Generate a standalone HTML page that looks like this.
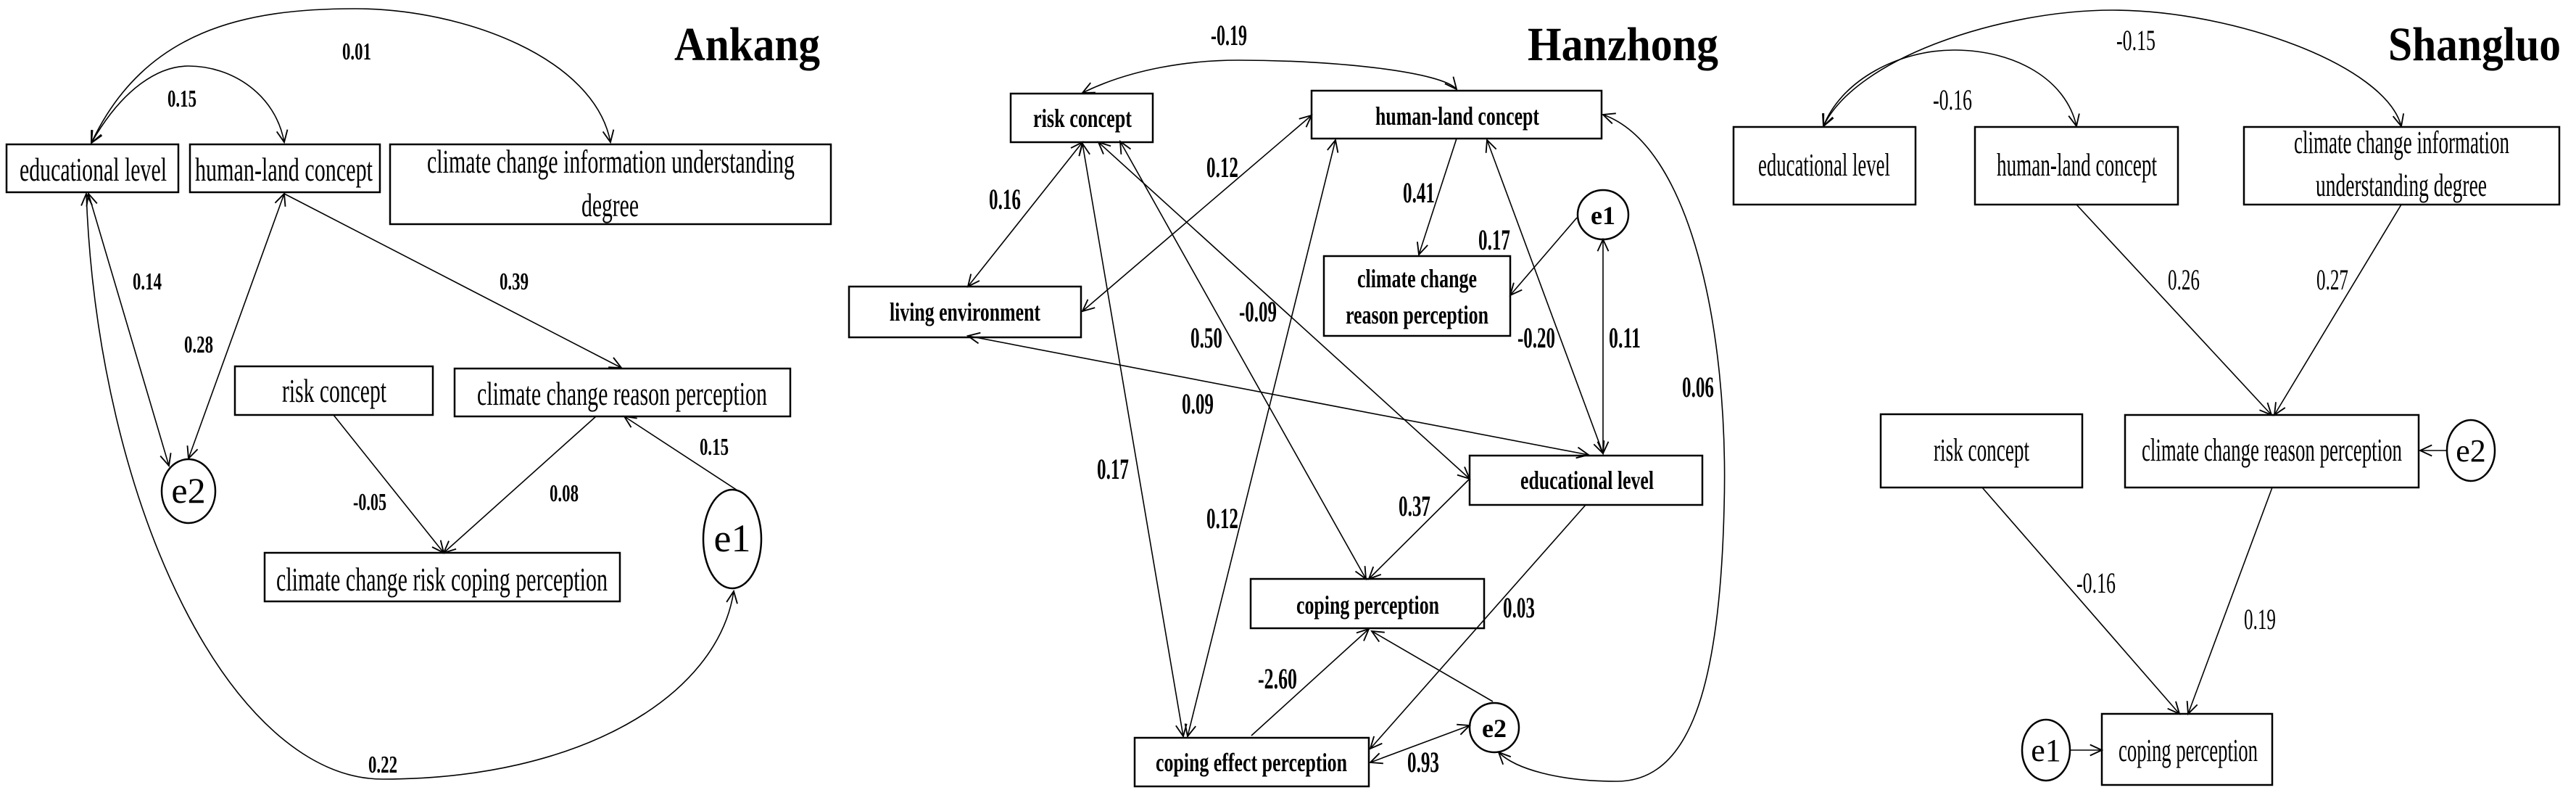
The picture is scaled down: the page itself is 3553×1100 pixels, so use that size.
<!DOCTYPE html>
<html><head><meta charset="utf-8"><style>
html,body{margin:0;padding:0;background:#fff;width:3553px;height:1100px;overflow:hidden}
svg{display:block}
text{font-family:"Liberation Serif",serif;fill:#000}
.t{font-size:46px}
.tb{font-size:36px;font-weight:bold}
.t3{font-size:44px}
.n1{font-size:34px;font-weight:bold}
.n2{font-size:40px;font-weight:bold}
.n3{font-size:40px}
.ttl{font-size:66px;font-weight:bold}
</style></head><body>
<svg width="3553" height="1100" viewBox="0 0 3553 1100" xmlns="http://www.w3.org/2000/svg">
<defs>
<marker id="a" markerUnits="userSpaceOnUse" markerWidth="20" markerHeight="20" refX="14" refY="7" orient="auto-start-reverse" viewBox="0 0 16 14">
<path d="M1,1 L14,7 L1,13" fill="none" stroke="#000" stroke-width="1.5"/>
</marker>
</defs>
<g fill="none" stroke="#000" stroke-width="2.5">
<!-- Panel 1 boxes -->
<rect x="9" y="199" width="237" height="66"/>
<rect x="262" y="199" width="262" height="66"/>
<rect x="538" y="199" width="608" height="110"/>
<rect x="324" y="505" width="273" height="67"/>
<rect x="627" y="508" width="463" height="66"/>
<rect x="365" y="762" width="490" height="67"/>
<ellipse cx="260" cy="677" rx="37" ry="44"/>
<ellipse cx="1010" cy="743" rx="40" ry="68"/>
<!-- Panel 2 boxes -->
<rect x="1394" y="129" width="196" height="67"/>
<rect x="1809" y="125" width="400" height="66"/>
<rect x="1171" y="395" width="320" height="70"/>
<rect x="1826" y="353" width="257" height="110"/>
<ellipse cx="2211" cy="296" rx="35" ry="34"/>
<rect x="2027" y="628" width="321" height="68"/>
<rect x="1725" y="798" width="322" height="68"/>
<rect x="1565" y="1017" width="323" height="67"/>
<ellipse cx="2061" cy="1003" rx="34" ry="34"/>
<!-- Panel 3 boxes -->
<rect x="2391" y="175" width="251" height="107"/>
<rect x="2724" y="175" width="280" height="107"/>
<rect x="3095" y="175" width="435" height="107"/>
<rect x="2594" y="571" width="278" height="101"/>
<rect x="2931" y="572" width="405" height="100"/>
<ellipse cx="3408" cy="621" rx="33" ry="42"/>
<rect x="2899" y="984" width="235" height="98"/>
<ellipse cx="2822" cy="1034" rx="33" ry="42"/>
</g>
<g fill="none" stroke="#000" stroke-width="1.6">
<!-- Panel 1 connectors -->
<path d="M126,197 C200,40 340,12 490,12 C640,12 820,80 842,196" marker-start="url(#a)" marker-end="url(#a)"/>
<path d="M126,197 C170,120 220,91 260,91 C320,91 380,130 392,196" marker-start="url(#a)" marker-end="url(#a)"/>
<line x1="122" y1="267" x2="233" y2="642" marker-start="url(#a)" marker-end="url(#a)"/>
<line x1="392" y1="267" x2="260" y2="632" marker-start="url(#a)" marker-end="url(#a)"/>
<line x1="392" y1="267" x2="857" y2="507" marker-end="url(#a)"/>
<line x1="460" y1="572" x2="612" y2="762" marker-end="url(#a)"/>
<line x1="822" y1="574" x2="612" y2="762" marker-end="url(#a)"/>
<line x1="1017" y1="676" x2="861" y2="574" marker-end="url(#a)"/>
<path d="M119,267 C135,700 320,1074 528,1074 C800,1074 990,960 1012,815" marker-start="url(#a)" marker-end="url(#a)"/>
<!-- Panel 2 connectors -->
<path d="M1493,128 C1560,95 1640,83 1708,83 C1850,83 1990,100 2009,123" marker-start="url(#a)" marker-end="url(#a)"/>
<line x1="1493" y1="196" x2="1335" y2="395" marker-start="url(#a)" marker-end="url(#a)"/>
<line x1="1809" y1="159" x2="1493" y2="429" marker-start="url(#a)" marker-end="url(#a)"/>
<line x1="1493" y1="198" x2="1632" y2="1015" marker-start="url(#a)" marker-end="url(#a)"/>
<line x1="1842" y1="193" x2="1638" y2="1015" marker-start="url(#a)" marker-end="url(#a)"/>
<line x1="1545" y1="195" x2="1884" y2="798" marker-start="url(#a)" marker-end="url(#a)"/>
<line x1="1515" y1="196" x2="2027" y2="660" marker-start="url(#a)" marker-end="url(#a)"/>
<line x1="1335" y1="463" x2="2191" y2="627" marker-start="url(#a)" marker-end="url(#a)"/>
<line x1="2009" y1="191" x2="1957" y2="351" marker-end="url(#a)"/>
<line x1="2175" y1="300" x2="2083" y2="407" marker-end="url(#a)"/>
<line x1="2051" y1="193" x2="2211" y2="625" marker-start="url(#a)" marker-end="url(#a)"/>
<line x1="2211" y1="330" x2="2211" y2="625" marker-start="url(#a)" marker-end="url(#a)"/>
<line x1="2027" y1="660" x2="1888" y2="798" marker-end="url(#a)"/>
<line x1="2187" y1="696" x2="1890" y2="1032" marker-end="url(#a)"/>
<line x1="1726" y1="1014" x2="1888" y2="867" marker-end="url(#a)"/>
<line x1="2059" y1="967" x2="1892" y2="870" marker-end="url(#a)"/>
<line x1="2027" y1="1000" x2="1890" y2="1051" marker-start="url(#a)" marker-end="url(#a)"/>
<path d="M2211,158 C2330,200 2385,450 2378,700 C2372,950 2330,1077 2230,1077 C2150,1077 2090,1060 2067,1037" marker-start="url(#a)" marker-end="url(#a)"/>
<!-- Panel 3 connectors -->
<path d="M2515,174 C2560,80 2760,14 2914,14 C3080,14 3290,90 3312,174" marker-start="url(#a)" marker-end="url(#a)"/>
<path d="M2515,174 C2540,110 2620,69 2695,69 C2780,69 2850,110 2864,174" marker-start="url(#a)" marker-end="url(#a)"/>
<line x1="2864" y1="282" x2="3133" y2="572" marker-end="url(#a)"/>
<line x1="3312" y1="282" x2="3137" y2="572" marker-end="url(#a)"/>
<line x1="3375" y1="621" x2="3338" y2="621" marker-end="url(#a)"/>
<line x1="2734" y1="672" x2="3006" y2="984" marker-end="url(#a)"/>
<line x1="3134" y1="672" x2="3018" y2="984" marker-end="url(#a)"/>
<line x1="2856" y1="1034" x2="2899" y2="1034" marker-end="url(#a)"/>
</g>
<!-- Titles -->
<text class="ttl" x="930" y="83" textLength="201" lengthAdjust="spacingAndGlyphs">Ankang</text>
<text class="ttl" x="2107" y="83" textLength="263" lengthAdjust="spacingAndGlyphs">Hanzhong</text>
<text class="ttl" x="3294" y="83" textLength="238" lengthAdjust="spacingAndGlyphs">Shangluo</text>
<!-- Panel 1 text -->
<g class="t">
<text x="27" y="249" textLength="203" lengthAdjust="spacingAndGlyphs">educational level</text>
<text x="269" y="249" textLength="245" lengthAdjust="spacingAndGlyphs">human-land concept</text>
<text x="589" y="238" textLength="507" lengthAdjust="spacingAndGlyphs">climate change information understanding</text>
<text x="802" y="298" textLength="79" lengthAdjust="spacingAndGlyphs">degree</text>
<text x="389" y="554" textLength="144" lengthAdjust="spacingAndGlyphs">risk concept</text>
<text x="658" y="558" textLength="400" lengthAdjust="spacingAndGlyphs">climate change reason perception</text>
<text x="381" y="814" textLength="457" lengthAdjust="spacingAndGlyphs">climate change risk coping perception</text>
<text x="260" y="693" text-anchor="middle" style="font-size:50px">e2</text>
<text x="1010" y="760" text-anchor="middle" style="font-size:54px">e1</text>
</g>
<g class="n1" text-anchor="middle">
<text x="492" y="82" textLength="40" lengthAdjust="spacingAndGlyphs">0.01</text>
<text x="251" y="147" textLength="40" lengthAdjust="spacingAndGlyphs">0.15</text>
<text x="203" y="399" textLength="40" lengthAdjust="spacingAndGlyphs">0.14</text>
<text x="274" y="486" textLength="40" lengthAdjust="spacingAndGlyphs">0.28</text>
<text x="709" y="399" textLength="40" lengthAdjust="spacingAndGlyphs">0.39</text>
<text x="510" y="703" textLength="46" lengthAdjust="spacingAndGlyphs">-0.05</text>
<text x="778" y="691" textLength="40" lengthAdjust="spacingAndGlyphs">0.08</text>
<text x="985" y="627" textLength="40" lengthAdjust="spacingAndGlyphs">0.15</text>
<text x="528" y="1065" textLength="40" lengthAdjust="spacingAndGlyphs">0.22</text>
</g>
<!-- Panel 2 text -->
<g class="tb">
<text x="1425" y="175" textLength="136" lengthAdjust="spacingAndGlyphs">risk concept</text>
<text x="1897" y="172" textLength="226" lengthAdjust="spacingAndGlyphs">human-land concept</text>
<text x="1227" y="442" textLength="208" lengthAdjust="spacingAndGlyphs">living environment</text>
<text x="1872" y="396" textLength="165" lengthAdjust="spacingAndGlyphs">climate change</text>
<text x="1856" y="446" textLength="197" lengthAdjust="spacingAndGlyphs">reason perception</text>
<text x="2097" y="674" textLength="184" lengthAdjust="spacingAndGlyphs">educational level</text>
<text x="1788" y="846" textLength="197" lengthAdjust="spacingAndGlyphs">coping perception</text>
<text x="1594" y="1063" textLength="264" lengthAdjust="spacingAndGlyphs">coping effect perception</text>
<text x="2211" y="309" text-anchor="middle">e1</text>
<text x="2061" y="1016" text-anchor="middle">e2</text>
</g>
<g class="n2" text-anchor="middle">
<text x="1695" y="62" textLength="50" lengthAdjust="spacingAndGlyphs">-0.19</text>
<text x="1386" y="288" textLength="44" lengthAdjust="spacingAndGlyphs">0.16</text>
<text x="1686" y="244" textLength="44" lengthAdjust="spacingAndGlyphs">0.12</text>
<text x="1957" y="279" textLength="44" lengthAdjust="spacingAndGlyphs">0.41</text>
<text x="2061" y="344" textLength="44" lengthAdjust="spacingAndGlyphs">0.17</text>
<text x="1735" y="443" textLength="52" lengthAdjust="spacingAndGlyphs">-0.09</text>
<text x="1664" y="479" textLength="44" lengthAdjust="spacingAndGlyphs">0.50</text>
<text x="2119" y="479" textLength="52" lengthAdjust="spacingAndGlyphs">-0.20</text>
<text x="2241" y="479" textLength="44" lengthAdjust="spacingAndGlyphs">0.11</text>
<text x="2342" y="547" textLength="44" lengthAdjust="spacingAndGlyphs">0.06</text>
<text x="1652" y="570" textLength="44" lengthAdjust="spacingAndGlyphs">0.09</text>
<text x="1535" y="660" textLength="44" lengthAdjust="spacingAndGlyphs">0.17</text>
<text x="1951" y="711" textLength="44" lengthAdjust="spacingAndGlyphs">0.37</text>
<text x="1686" y="728" textLength="44" lengthAdjust="spacingAndGlyphs">0.12</text>
<text x="2095" y="851" textLength="44" lengthAdjust="spacingAndGlyphs">0.03</text>
<text x="1762" y="949" textLength="54" lengthAdjust="spacingAndGlyphs">-2.60</text>
<text x="1963" y="1064" textLength="44" lengthAdjust="spacingAndGlyphs">0.93</text>
</g>
<!-- Panel 3 text -->
<g class="t3">
<text x="2425" y="242" textLength="182" lengthAdjust="spacingAndGlyphs">educational level</text>
<text x="2754" y="242" textLength="221" lengthAdjust="spacingAndGlyphs">human-land concept</text>
<text x="3164" y="211" textLength="297" lengthAdjust="spacingAndGlyphs">climate change information</text>
<text x="3194" y="270" textLength="236" lengthAdjust="spacingAndGlyphs">understanding degree</text>
<text x="2667" y="635" textLength="132" lengthAdjust="spacingAndGlyphs">risk concept</text>
<text x="2954" y="635" textLength="359" lengthAdjust="spacingAndGlyphs">climate change reason perception</text>
<text x="2922" y="1049" textLength="192" lengthAdjust="spacingAndGlyphs">coping perception</text>
<text x="3408" y="636" text-anchor="middle">e2</text>
<text x="2822" y="1049" text-anchor="middle">e1</text>
</g>
<g class="n3" text-anchor="middle">
<text x="2946" y="69" textLength="54" lengthAdjust="spacingAndGlyphs">-0.15</text>
<text x="2693" y="151" textLength="54" lengthAdjust="spacingAndGlyphs">-0.16</text>
<text x="3012" y="399" textLength="44" lengthAdjust="spacingAndGlyphs">0.26</text>
<text x="3217" y="399" textLength="44" lengthAdjust="spacingAndGlyphs">0.27</text>
<text x="2891" y="817" textLength="54" lengthAdjust="spacingAndGlyphs">-0.16</text>
<text x="3117" y="867" textLength="44" lengthAdjust="spacingAndGlyphs">0.19</text>
</g>
</svg>
</body></html>
